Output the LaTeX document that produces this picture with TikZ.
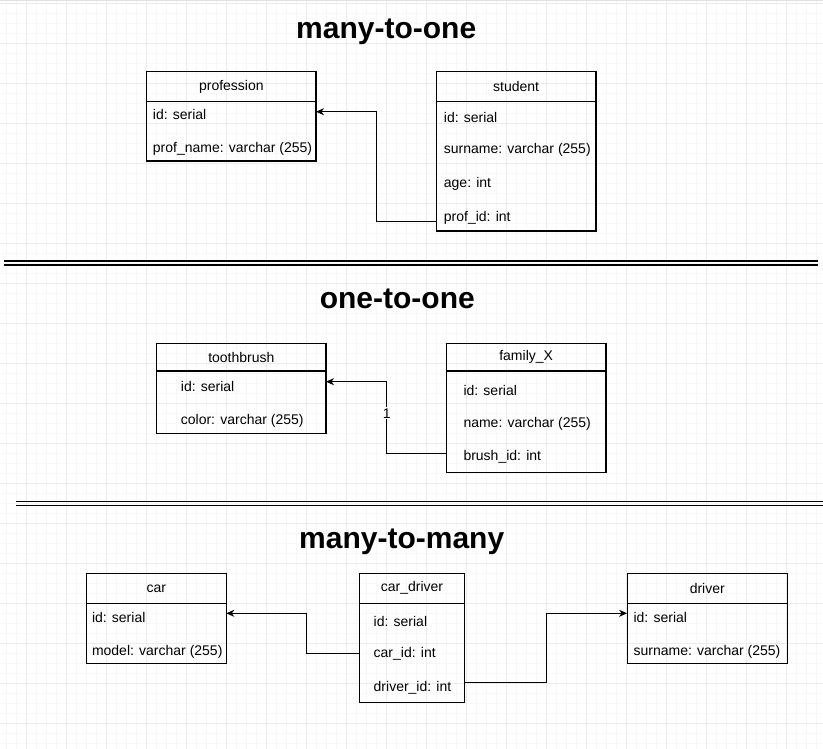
\documentclass[tikz,border=0pt]{standalone}
\usepackage{fontspec}
\setmainfont{Liberation Sans}
\usetikzlibrary{arrows.meta,calc}
\begin{document}
\begin{tikzpicture}[x=1pt,y=-1pt,
  hdr/.style={draw, line width=1.1pt, anchor=north west, inner sep=0pt, outer sep=0pt,
    font=\fontsize{14}{16}\selectfont},
  tblbody/.style={draw, line width=1.1pt, anchor=north west, inner sep=0pt, outer sep=0pt},
  field/.style={anchor=west, inner sep=0pt, font=\fontsize{14}{16}\selectfont},
  title/.style={anchor=base, inner sep=0pt, font=\bfseries\fontsize{30}{36}\selectfont},
  fk/.style={line width=1pt, -{Stealth[length=8pt,width=7pt,inset=2.5pt]}},
  sep/.style={line width=1.6pt},
  lbl/.style={fill=white, inner sep=1pt, font=\fontsize{14}{16}\selectfont},
  minorgrid/.style={draw=black!3, line width=0.8pt},
  majorgrid/.style={draw=black!8, line width=0.8pt}]

% canvas and background grid
\useasboundingbox (0,0) rectangle (823,749);
\fill[white] (0,0) rectangle (823,749);
\foreach \gx in {6.5,16.5,...,820} \draw[minorgrid] (\gx,0) -- (\gx,749);
\foreach \gy in {3.3,13.3,...,749} \draw[minorgrid] (0,\gy) -- (823,\gy);
\foreach \gx in {26.5,66.5,...,820} \draw[majorgrid] (\gx,0) -- (\gx,749);
\foreach \gy in {3.3,43.3,...,749} \draw[majorgrid] (0,\gy) -- (823,\gy);
\draw[draw=black!12, line width=1pt] (0,0.5) -- (823,0.5);

% ---------- many-to-one ----------
\node[title] (t1) at (386.2,38.3) {many-to-one};

\node[hdr, minimum width=169.3pt, minimum height=30pt] (prof-h) at (146.7,71.7) {profession};
\node[tblbody, minimum width=169.3pt, minimum height=59.3pt] (prof) at (prof-h.south west) {};
\node[field] (prof-id) at (152.7,114.3) {id: serial};
\node[field] (prof-name) at (152.7,149.3) {prof\_name: varchar (255)};

\node[hdr, minimum width=159.7pt, minimum height=30pt] (stu-h) at (436.3,71.7) {student};
\node[tblbody, minimum width=159.7pt, minimum height=129.3pt] (stu) at (stu-h.south west) {};
\node[field] (stu-id) at (443.7,117) {id: serial};
\node[field] (stu-sn) at (443.7,150.3) {surname: varchar (255)};
\node[field] (stu-age) at (443.7,184.3) {age: int};
\node[field] (stu-pid) at (443.7,217.7) {prof\_id: int};

\draw[fk] ($(stu.west |- stu-pid)+(0,3.6)$) -- ++(-59.6,0)
  |- ($(prof.east |- prof-id)+(0,-2.6)$);

\draw[sep] (4,261) -- (818,261);
\draw[sep] (4,265) -- (818,265);

% ---------- one-to-one ----------
\node[title] (t2) at (397.3,308.2) {one-to-one};

\node[hdr, minimum width=169.3pt, minimum height=27.7pt] (tb-h) at (156.7,343.3) {toothbrush};
\node[tblbody, minimum width=169.3pt, minimum height=62.3pt] (tb) at (tb-h.south west) {};
\node[field] (tb-id) at (180.7,386) {id: serial};
\node[field] (tb-col) at (180.7,421) {color: varchar (255)};

\node[hdr, minimum width=159.7pt, minimum height=27.7pt] (fam-h) at (446.3,343.3) {family\_X};
\node[tblbody, minimum width=159.7pt, minimum height=101.7pt] (fam) at (fam-h.south west) {};
\node[field] (fam-id) at (463.3,390) {id: serial};
\node[field] (fam-nm) at (463.3,423.7) {name: varchar (255)};
\node[field] (fam-bid) at (463.3,456.7) {brush\_id: int};

\draw[fk] ($(fam.west |- fam-bid)+(0,-3.4)$) -- ++(-59.6,0)
  |- node[lbl, pos=0.28] (one) {1} ($(tb.east |- tb-id)+(0,-4.3)$);

\draw[sep] (16,501.3) -- (823,501.3);
\draw[sep] (16,505.3) -- (823,505.3);

% ---------- many-to-many ----------
\node[title] (t3) at (401.7,548.2) {many-to-many};

\node[hdr, minimum width=140pt, minimum height=30pt] (car-h) at (86.3,573.3) {car};
\node[tblbody, minimum width=140pt, minimum height=60pt] (car) at (car-h.south west) {};
\node[field] (car-id) at (91.8,617.7) {id: serial};
\node[field] (car-mod) at (91.8,652) {model: varchar (255)};

\node[hdr, minimum width=105.1pt, minimum height=30pt] (cd-h) at (359.4,573.3) {car\_driver};
\node[tblbody, minimum width=105.1pt, minimum height=99.4pt] (cd) at (cd-h.south west) {};
\node[field] (cd-id) at (373.5,621) {id: serial};
\node[field] (cd-cid) at (373.5,654.3) {car\_id: int};
\node[field] (cd-did) at (373.5,688.3) {driver\_id: int};

\node[hdr, minimum width=160.3pt, minimum height=30pt] (drv-h) at (627.1,573.3) {driver};
\node[tblbody, minimum width=160.3pt, minimum height=60pt] (drv) at (drv-h.south west) {};
\node[field] (drv-id) at (633.4,617.7) {id: serial};
\node[field] (drv-sn) at (633.4,652) {surname: varchar (255)};

\draw[fk] ($(cd.west |- cd-cid)+(0,-1)$) -- ++(-53,0)
  |- ($(car.east |- car-id)+(0,-4.4)$);
\draw[fk] ($(cd.east |- cd-did)+(0,-5.6)$) -- ++(82,0)
  |- ($(drv.west |- drv-id)+(0,-4.4)$);

\end{tikzpicture}
\end{document}
